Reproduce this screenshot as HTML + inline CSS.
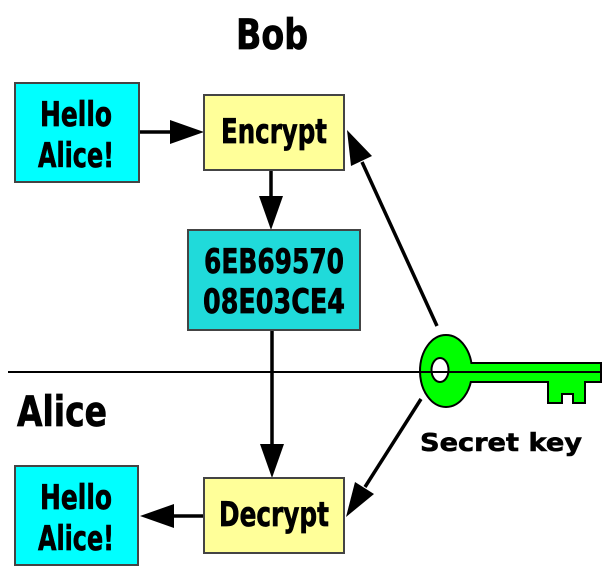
<!DOCTYPE html>
<html><head><style>body{margin:0;background:#fff}svg{display:block}</style></head><body>
<svg width="613" height="579" viewBox="0 0 613 579" xmlns="http://www.w3.org/2000/svg" font-family="'DejaVu Sans','Liberation Sans',sans-serif" font-weight="bold">
<text x="272" y="49" font-size="42" text-anchor="middle" textLength="72" lengthAdjust="spacingAndGlyphs" stroke="#000" stroke-width="0.8">Bob</text>
<text x="17" y="426" font-size="42" textLength="90" lengthAdjust="spacingAndGlyphs" stroke="#000" stroke-width="0.8">Alice</text>
<text x="420" y="451" font-size="25" textLength="162" lengthAdjust="spacingAndGlyphs" stroke="#000" stroke-width="0.6">Secret key</text>
<line x1="8" y1="372" x2="425" y2="372" stroke="#000" stroke-width="2"/>
<g stroke="#000" stroke-width="3.5" fill="none">
<line x1="139" y1="132" x2="172" y2="132"/>
<line x1="271" y1="170" x2="271" y2="198"/>
<line x1="272" y1="330" x2="272" y2="446"/>
<line x1="204" y1="516" x2="172" y2="516"/>
<line x1="437" y1="326" x2="362" y2="162"/>
<line x1="421" y1="399" x2="365" y2="487"/>
</g>
<g fill="#000">
<polygon points="204,132 170,120 170,144"/>
<polygon points="271,230 259,196 283,196"/>
<polygon points="272,478 260,444 284,444"/>
<polygon points="140,516 174,504 174,528"/>
<polygon points="347,130 372,156 351,166"/>
<polygon points="346,517 374,494 355,482"/>
</g>
<g stroke="#444" stroke-width="2">
<rect x="15" y="83" width="124" height="99" fill="#00ffff"/>
<rect x="204" y="95" width="140" height="75" fill="#ffff99"/>
<rect x="188" y="230" width="172" height="100" fill="#20dada"/>
<rect x="15" y="466" width="123" height="99" fill="#00ffff"/>
<rect x="204" y="478" width="140" height="75" fill="#ffff99"/>
</g>
<g font-size="34" text-anchor="middle" stroke="#000" stroke-width="0.7">
<text x="76" y="126" textLength="72" lengthAdjust="spacingAndGlyphs">Hello</text>
<text x="76" y="167" textLength="76" lengthAdjust="spacingAndGlyphs">Alice!</text>
<text x="274" y="143" textLength="106" lengthAdjust="spacingAndGlyphs">Encrypt</text>
<text x="274" y="273" textLength="140" lengthAdjust="spacingAndGlyphs">6EB69570</text>
<text x="274" y="313" textLength="142" lengthAdjust="spacingAndGlyphs">08E03CE4</text>
<text x="76" y="509" textLength="72" lengthAdjust="spacingAndGlyphs">Hello</text>
<text x="76" y="550" textLength="76" lengthAdjust="spacingAndGlyphs">Alice!</text>
<text x="274" y="526" textLength="110" lengthAdjust="spacingAndGlyphs">Decrypt</text>
</g>
<path d="M466,363 L601,363 L601,382 L585,382 L585,403 L573,403 L573,394 L562,394 L562,403 L548,403 L548,382 L466,382 Z" fill="#00ff00" stroke="#000" stroke-width="2"/>
<ellipse cx="446" cy="371" rx="26" ry="36" fill="#00ff00" stroke="#000" stroke-width="2"/>
<rect x="466" y="364" width="8" height="17" fill="#00ff00"/>
<ellipse cx="440" cy="370" rx="8.5" ry="12" fill="#fff" stroke="#000" stroke-width="2"/>
<line x1="420" y1="372" x2="601" y2="372" stroke="#000" stroke-width="2"/>
</svg>
</body></html>
